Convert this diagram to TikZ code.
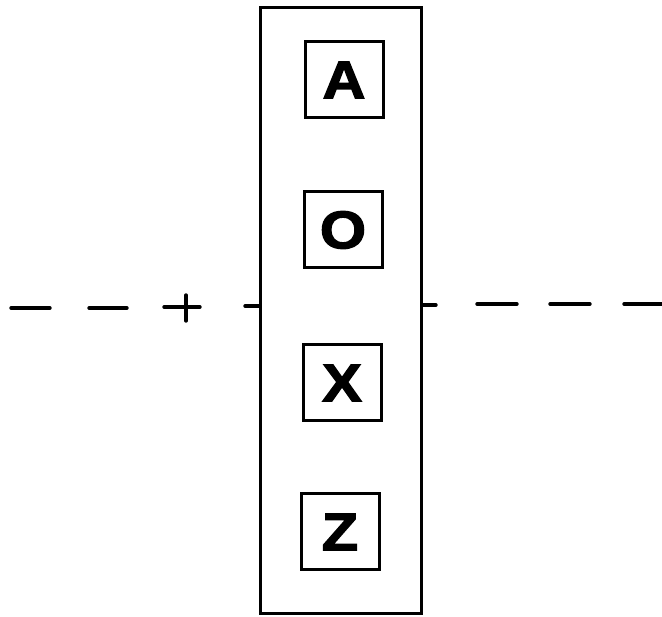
\documentclass[tikz,border=0pt]{standalone}
\usepackage{fontspec}
\setmainfont{Liberation Sans}
\newfontfamily\heavy[BoldFeatures={FakeBold=2.5,FakeStretch=1.12}]{Liberation Sans}
\begin{document}
\begin{tikzpicture}[x=1pt,y=-1pt,
  panel/.style={draw,line width=3pt,minimum width=161pt,minimum height=606pt,inner sep=0pt},
  letterbox/.style={draw,line width=3pt,minimum width=78pt,minimum height=76pt,inner sep=0pt,font=\fontsize{53}{53}\heavy\bfseries},
  axis/.style={line width=3.4pt,line cap=round}]
\useasboundingbox (0,0) rectangle (662,617);
\node[panel] (P) at (341,311) {};
\node[letterbox] (A) at (344,80) {A};
\node[letterbox] (O) at (343,230) {O};
\node[letterbox] (X) at (342,383) {X};
\node[letterbox] (Z) at (340,532) {Z};
% left dashes
\coordinate (l1a) at (11,308); \coordinate (l1b) at (50,308);
\coordinate (l2a) at (89,308); \coordinate (l2b) at (127,308);
\coordinate (l3a) at (164,307); \coordinate (l3b) at (200,307);
\coordinate (pt) at (186,295); \coordinate (pb) at (186,321);
\coordinate (l4a) at (245,306);
\draw[axis] (l1a) -- (l1b);
\draw[axis] (l2a) -- (l2b);
\draw[axis] (l3a) -- (l3b);
\draw[axis] (pt) -- (pb);
\draw[axis] (l4a) -- (P.west |- l4a);
% right dashes
\coordinate (r1b) at (436,305);
\coordinate (r2a) at (477,304); \coordinate (r2b) at (517,304);
\coordinate (r3a) at (550,304); \coordinate (r3b) at (590,304);
\coordinate (r4a) at (624,304); \coordinate (r4b) at (662,304);
\draw[axis] (P.east |- r1b) -- (r1b);
\draw[axis] (r2a) -- (r2b);
\draw[axis] (r3a) -- (r3b);
\draw[axis] (r4a) -- (r4b);
\end{tikzpicture}
\end{document}
